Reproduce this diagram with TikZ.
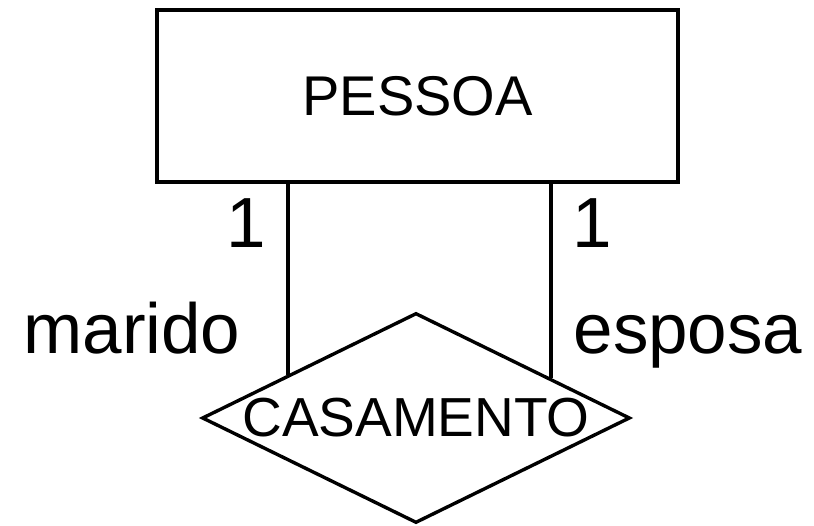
\documentclass[tikz,border=0pt]{standalone}
\usepackage{fontspec}
\setmainfont{Liberation Sans}
\usetikzlibrary{shapes.geometric}
\begin{document}
\begin{tikzpicture}[x=1pt,y=1pt,
  every path/.style={line width=3.4pt},
  entitybox/.style={draw, rectangle, minimum width=521pt, minimum height=172pt, inner sep=0pt, font=\fontsize{56}{60}\selectfont},
  relbox/.style={draw, diamond, minimum width=428pt, minimum height=210pt, inner sep=0pt},
  reltext/.style={inner sep=0pt, font=\fontsize{55}{60}\selectfont},
  rolelabel/.style={inner sep=0pt, anchor=base, font=\fontsize{71}{80}\selectfont}]
\useasboundingbox (0,0) rectangle (814,526);
\node[entitybox] (pessoa) at (417.5,430) {PESSOA};
\node[relbox] (casamento) at (416,108) {};
\node[reltext] (castext) at (casamento.center) {CASAMENTO};
\path (casamento.west) -- (casamento.north) coordinate[pos=0.407] (lend);
\path (casamento.north) -- (casamento.east) coordinate[pos=0.626] (rend);
\draw (pessoa.south -| lend) -- (lend);
\draw (pessoa.south -| rend) -- (rend);
\node[rolelabel] (one1) at (246,278) {1};
\node[rolelabel] (one2) at (592,278) {1};
\node[rolelabel] (marido) at (132,172) {marido};
\node[rolelabel] (esposa) at (688,172) {esposa};
\end{tikzpicture}
\end{document}
